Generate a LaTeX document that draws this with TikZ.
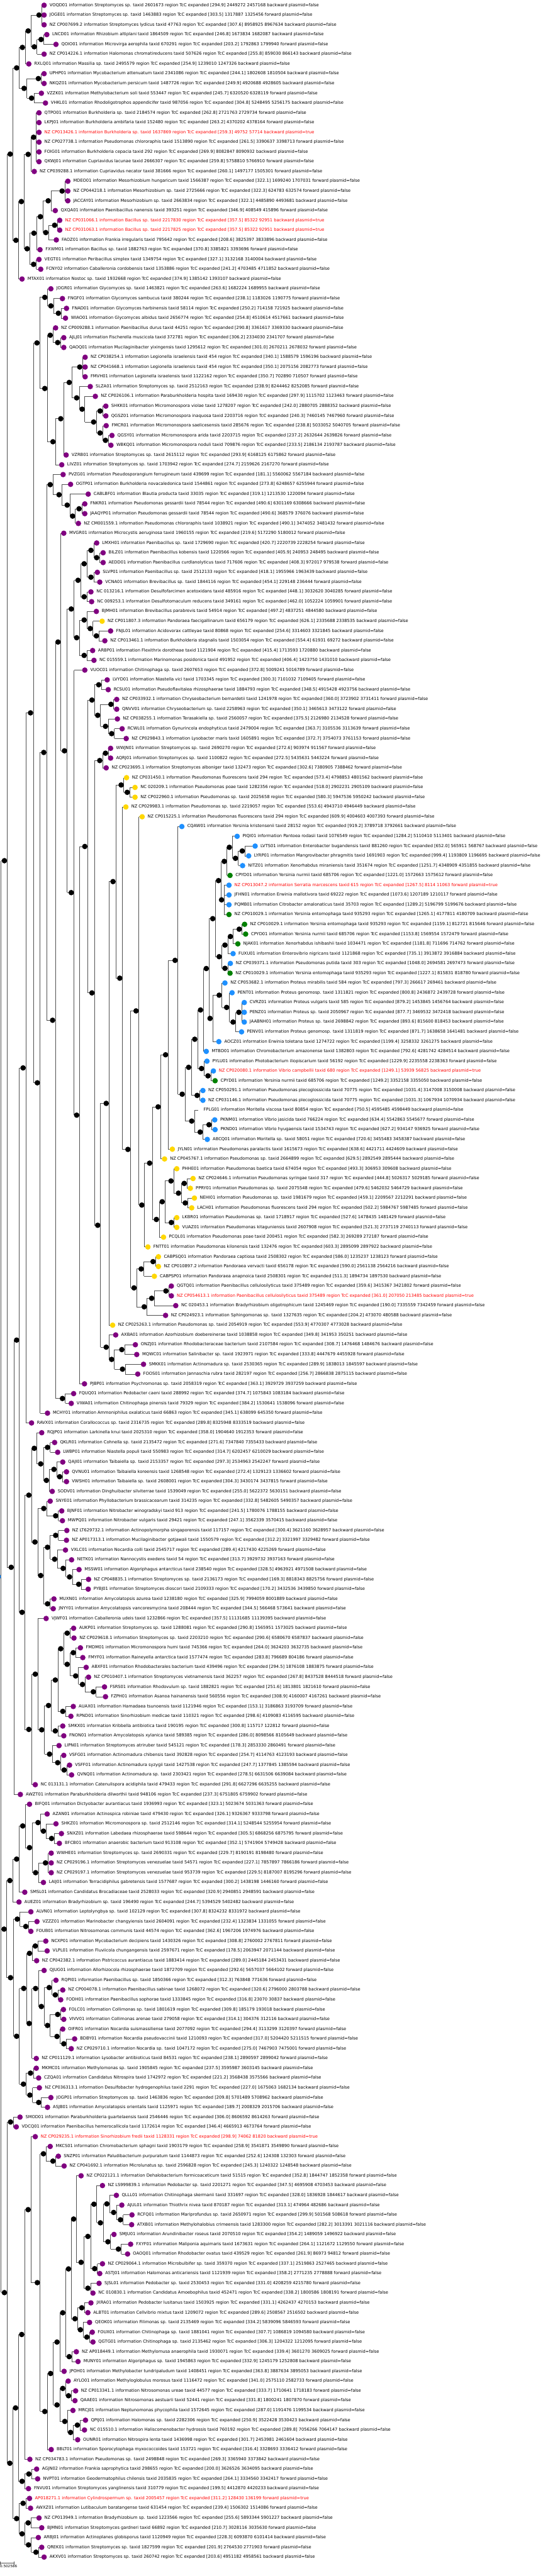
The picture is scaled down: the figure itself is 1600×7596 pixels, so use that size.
\documentclass[tikz,border=0pt]{standalone}
\usepackage{fontspec}
\setmainfont{DejaVu Sans}
\usepackage{tikz}
\usetikzlibrary{calc}
\definecolor{leafpurple}{RGB}{128,0,128}
\definecolor{leafyellow}{RGB}{255,215,0}
\definecolor{leafblue}{RGB}{30,144,255}
\definecolor{leafgreen}{RGB}{0,128,0}
\definecolor{plasred}{RGB}{255,0,0}
\definecolor{branchgray}{RGB}{80,80,80}
\pgfdeclarelayer{back}
\pgfsetlayers{back,main}
\newcommand\leaffont{\fontsize{12.4}{14}\selectfont}
\newcommand\barfont{\fontsize{10.5}{12}\selectfont}
\tikzset{
  branch/.style={draw=branchgray, line width=1.2pt},
  innerdot/.style={fill=black},
  rootdot/.style={fill=leafblue},
  pu/.style={fill=leafpurple},
  ye/.style={fill=leafyellow},
  bl/.style={fill=leafblue},
  gr/.style={fill=leafgreen},
  nd/.style={fill=none},
  leaflabel/.style={anchor=west, inner sep=0pt, font=\leaffont,
    text height=9pt, text depth=2.5pt}
}
% leaf: index, x, dot style, accession, organism, taxid, score, start end, strand
\newcommand\leaf[9]{%
  \pgfmathsetmacro\leafy{15.5+(#1-1)*28.83}%
  \coordinate (l#1) at (#2,\leafy);
  \fill[#3] (l#1) circle[radius=8];
  \node[leaflabel] (t#1) at ([xshift=16pt]l#1)
    {#4 information #5 taxid #6 region TcC expanded [#7] #8 #9 plasmid=false};
}
% plasmid leaf, red label
\newcommand\pleaf[9]{%
  \pgfmathsetmacro\leafy{15.5+(#1-1)*28.83}%
  \coordinate (l#1) at (#2,\leafy);
  \fill[#3] (l#1) circle[radius=8];
  \node[leaflabel, text=plasred] (t#1) at ([xshift=16pt]l#1)
    {#4 information #5 taxid #6 region TcC expanded [#7] #8 #9 plasmid=true};
}
% clade: [dot style] name, x, children
\newcommand\clade[4][innerdot]{%
  \gdef\cfirst{}%
  \foreach \kid in {#4}{\ifx\cfirst\empty\xdef\cfirst{\kid}\fi\xdef\clast{\kid}}%
  \path let \p1=($(\cfirst)!0.5!(\clast)$) in
    coordinate (#2) at (#3pt,\y1) coordinate (#2v) at (#3pt+8pt,\y1);
  \begin{pgfonlayer}{back}
    \draw[branch] (#2v |- \cfirst) -- (#2v |- \clast);
    \foreach \kid in {#4}{\draw[branch] (#2v |- \kid) -- (\kid);}
  \end{pgfonlayer}
  \fill[#1] (#2) circle[radius=8];
}

\begin{document}
\begin{tikzpicture}[x=1pt, y=-1pt]
  \useasboundingbox (0,0) rectangle (1600,7596);

  % Leaves
  \leaf{1}{130}{pu}{VOQD01}{Streptomyces sp.}{2601673}{294.9}{2449272 2457168}{backward}
  \leaf{2}{130}{pu}{JOGE01}{Streptomyces sp.}{1463883}{303.5}{1317887 1325456}{forward}
  \leaf{3}{130}{pu}{NZ CP007699.2}{Streptomyces lydicus}{47763}{307.6}{8958925 8967634}{backward}
  \leaf{4}{138}{pu}{LNCD01}{Rhizobium altiplani}{1864509}{246.8}{1673834 1682087}{backward}
  \leaf{5}{165}{pu}{QOIO01}{Microvirga aerophila}{670291}{203.2}{1792863 1799940}{forward}
  \leaf{6}{130}{pu}{NZ CP014226.1}{Halomonas chromatireducens}{507626}{255.8}{859030 866143}{backward}
  \leaf{7}{85}{pu}{RXLQ01}{Massilia sp.}{2495579}{254.9}{1239010 1247326}{backward}
  \leaf{8}{130}{pu}{UPHP01}{Mycobacterium attenuatum}{2341086}{244.1}{1802608 1810504}{backward}
  \leaf{9}{130}{pu}{NKQZ01}{Mycobacterium persicum}{1487726}{249.9}{4920688 4928605}{backward}
  \leaf{10}{122}{pu}{VZZK01}{Methylobacterium soli}{553447}{245.7}{6320520 6328119}{forward}
  \leaf{11}{134}{pu}{VHKL01}{Rhodoligotrophos appendicifer}{987056}{304.8}{5248495 5256175}{backward}
  \leaf{12}{115}{pu}{QTPO01}{Burkholderia sp.}{2184574}{262.8}{2721763 2729734}{forward}
  \leaf{13}{115}{pu}{LKPJ01}{Burkholderia ambifaria}{152480}{263.2}{4370202 4378164}{forward}
  \pleaf{14}{115}{pu}{NZ CP013426.1}{Burkholderia sp.}{1637869}{259.3}{49752 57714}{backward}
  \leaf{15}{115}{pu}{NZ CP027738.1}{Pseudomonas chlororaphis}{1513890}{261.5}{3390637 3398713}{forward}
  \leaf{16}{115}{pu}{FOIG01}{Burkholderia cepacia}{292}{269.9}{8082847 8090932}{backward}
  \leaf{17}{115}{pu}{QKWJ01}{Cupriavidus lacunae}{2666307}{259.8}{5758810 5766910}{forward}
  \leaf{18}{101}{pu}{NZ CP039288.1}{Cupriavidus necator}{381666}{260.1}{1497177 1505301}{forward}
  \leaf{19}{200}{pu}{MDEO01}{Mesorhizobium hungaricum}{1566387}{322.1}{1699240 1707031}{forward}
  \leaf{20}{200}{pu}{NZ CP044218.1}{Mesorhizobium sp.}{2725666}{322.3}{624783 632574}{forward}
  \leaf{21}{200}{pu}{JACCAY01}{Mesorhizobium sp.}{2663834}{322.1}{4485890 4493681}{backward}
  \leaf{22}{163}{pu}{QXQA01}{Paenibacillus nanensis}{393251}{346.9}{408549 415896}{forward}
  \pleaf{23}{176}{pu}{NZ CP031066.1}{Bacillus sp.}{2217830}{357.5}{85322 92951}{backward}
  \pleaf{24}{176}{pu}{NZ CP031063.1}{Bacillus sp.}{2217825}{357.5}{85322 92951}{backward}
  \leaf{25}{166}{pu}{FAOZ01}{Frankia irregularis}{795642}{208.6}{3825397 3833896}{backward}
  \leaf{26}{118}{pu}{FXWM01}{Bacillus sp.}{1882763}{370.8}{3385821 3393696}{forward}
  \leaf{27}{115}{pu}{VEGT01}{Peribacillus simplex}{1349754}{327.1}{3132168 3140004}{backward}
  \leaf{28}{120}{pu}{FCNY02}{Caballeronia cordobensis}{1353886}{241.2}{4703485 4711852}{backward}
  \leaf{29}{65}{pu}{MTAX01}{Nostoc sp.}{1932668}{374.9}{1385142 1393107}{backward}
  \leaf{30}{150}{pu}{JOGR01}{Glycomyces sp.}{1463821}{263.6}{1682224 1689955}{backward}
  \leaf{31}{184}{pu}{FNGF01}{Glycomyces sambucus}{380244}{238.1}{1183026 1190775}{forward}
  \leaf{32}{196}{pu}{FNAD01}{Glycomyces harbinensis}{58114}{250.2}{714158 721925}{backward}
  \leaf{33}{193}{pu}{WIAO01}{Glycomyces albidus}{2656774}{254.8}{4510614 4517661}{backward}
  \leaf{34}{164}{pu}{NZ CP009288.1}{Paenibacillus durus}{44251}{290.8}{3361617 3369330}{backward}
  \leaf{35}{188}{pu}{AJLJ01}{Fischerella muscicola}{372781}{306.2}{2334030 2341707}{forward}
  \leaf{36}{188}{pu}{QAOQ01}{Mucilaginibacter yixingensis}{1295612}{301.0}{2670211 2678032}{forward}
  \leaf{37}{251}{pu}{NZ CP038254.1}{Legionella israelensis}{454}{340.1}{1588579 1596196}{backward}
  \leaf{38}{251}{pu}{NZ CP041668.1}{Legionella israelensis}{454}{350.1}{2075156 2082773}{forward}
  \leaf{39}{251}{pu}{FMVH01}{Legionella israelensis}{1122162}{350.7}{702890 710507}{forward}
  \leaf{40}{266}{pu}{SLZA01}{Streptomyces sp.}{2512163}{238.9}{8244462 8252085}{forward}
  \leaf{41}{281}{pu}{NZ CP026106.1}{Paraburkholderia hospita}{169430}{297.9}{1115702 1123463}{forward}
  \leaf{42}{312}{pu}{SHKK01}{Micromonospora violae}{1278207}{242.0}{2880705 2888352}{backward}
  \leaf{43}{312}{pu}{QGSZ01}{Micromonospora inaquosa}{2203716}{240.3}{7460145 7467960}{forward}
  \leaf{44}{313}{pu}{FMCR01}{Micromonospora saelicesensis}{285676}{238.8}{5033052 5040705}{forward}
  \leaf{45}{330}{pu}{QGSY01}{Micromonospora arida}{2203715}{237.2}{2632644 2639826}{forward}
  \leaf{46}{327}{pu}{WBKQ01}{Micromonospora noduli}{709876}{233.5}{2186134 2193787}{backward}
  \leaf{47}{195}{pu}{VZRB01}{Streptomyces sp.}{2615112}{293.9}{6168125 6175862}{forward}
  \leaf{48}{182}{pu}{LIVZ01}{Streptomyces sp.}{1703942}{274.7}{2159626 2167270}{forward}
  \leaf{49}{186}{pu}{PVZG01}{Pseudosporangium ferrugineum}{439699}{181.1}{5560062 5567184}{backward}
  \leaf{50}{208}{pu}{OGTP01}{Burkholderia novacaledonica}{1544861}{273.8}{6248657 6255944}{forward}
  \leaf{51}{260}{pu}{CABLBF01}{Blautia producta}{33035}{319.1}{1213530 1220094}{forward}
  \leaf{52}{250}{pu}{FNKR01}{Pseudomonas gessardii}{78544}{490.6}{6301169 6308666}{backward}
  \leaf{53}{250}{pu}{JAAQYP01}{Pseudomonas gessardii}{78544}{490.6}{368579 376076}{backward}
  \leaf{54}{231}{pu}{NZ CM001559.1}{Pseudomonas chlororaphis}{1038921}{490.1}{3474052 3481432}{forward}
  \leaf{55}{188}{pu}{MVGR01}{Microcystis aeruginosa}{1960155}{219.6}{5172290 5180012}{forward}
  \leaf{56}{285}{pu}{LMXH01}{Paenibacillus sp.}{1729690}{420.7}{2220739 2228254}{forward}
  \leaf{57}{304}{pu}{BILZ01}{Paenibacillus kobensis}{1220566}{405.9}{240953 248495}{backward}
  \leaf{58}{304}{pu}{AEDD01}{Paenibacillus curdlanolyticus}{717606}{408.3}{972017 979538}{forward}
  \leaf{59}{287}{pu}{SLVP01}{Paenibacillus sp.}{2512133}{418.1}{1955966 1963439}{backward}
  \leaf{60}{294}{pu}{VCNA01}{Brevibacillus sp.}{1844116}{454.1}{229148 236444}{forward}
  \leaf{61}{268}{pu}{NC 013216.1}{Desulfofarcimen acetoxidans}{485916}{448.1}{3032620 3040285}{forward}
  \leaf{62}{270}{pu}{NC 009253.1}{Desulfotomaculum reducens}{349161}{462.0}{1052224 1059901}{forward}
  \leaf{63}{284}{pu}{BJMH01}{Brevibacillus parabrevis}{54914}{497.2}{4837251 4844580}{backward}
  \leaf{64}{301}{ye}{NZ CP011807.3}{Pandoraea faecigallinarum}{656179}{626.1}{2335688 2338535}{backward}
  \leaf{65}{326}{pu}{FNJL01}{Acidovorax cattleyae}{80868}{254.6}{3314603 3321845}{backward}
  \leaf{66}{309}{pu}{NZ CP013461.1}{Burkholderia stagnalis}{1503054}{554.4}{61931 69272}{backward}
  \leaf{67}{273}{pu}{ARBP01}{Flexithrix dorotheae}{1121904}{415.4}{1713593 1720880}{backward}
  \leaf{68}{277}{pu}{NC 015559.1}{Marinomonas posidonica}{491952}{406.4}{1423750 1431010}{backward}
  \leaf{69}{250}{pu}{VUOC01}{Chitinophaga sp.}{2607653}{372.8}{5009241 5016789}{forward}
  \leaf{70}{316}{pu}{LVYD01}{Niastella vici}{1703345}{300.3}{7101032 7109405}{forward}
  \leaf{71}{319}{pu}{RCSU01}{Pseudoflavitalea rhizosphaerae}{1884793}{348.5}{4915428 4923756}{backward}
  \leaf{72}{344}{pu}{NZ CP033932.1}{Chryseobacterium bernardetii}{1241978}{360.0}{3723902 3731411}{forward}
  \leaf{73}{344}{pu}{QNVV01}{Chryseobacterium sp.}{2258963}{350.1}{3465613 3473122}{forward}
  \leaf{74}{346}{pu}{NZ CP038255.1}{Terasakiella sp.}{2560057}{375.5}{2126980 2134528}{forward}
  \leaf{75}{360}{pu}{RCWL01}{Gynurincola endophyticus}{2479004}{363.7}{3105536 3113639}{forward}
  \leaf{76}{372}{pu}{NZ CP029843.1}{Lysobacter maris}{1605891}{372.7}{3754073 3761153}{forward}
  \leaf{77}{326}{pu}{WWJN01}{Streptomyces sp.}{2690270}{272.6}{903974 911567}{forward}
  \leaf{78}{326}{pu}{AQRJ01}{Streptomyces sp.}{1100822}{272.5}{5435631 5443224}{forward}
  \leaf{79}{313}{pu}{NZ CP023695.1}{Streptomyces alboniger}{132473}{302.6}{7380905 7388462}{forward}
  \leaf{80}{373}{ye}{NZ CP031450.1}{Pseudomonas fluorescens}{294}{573.4}{4798853 4801562}{backward}
  \leaf{81}{398}{ye}{NC 020209.1}{Pseudomonas poae}{1282356}{518.0}{2902231 2905109}{backward}
  \leaf{82}{398}{ye}{NZ CP022960.1}{Pseudomonas sp.}{2025658}{580.3}{5947536 5950242}{backward}
  \leaf{83}{371}{ye}{NZ CP029983.1}{Pseudomonas sp.}{2219057}{553.6}{4943710 4946449}{backward}
  \leaf{84}{419}{ye}{NZ CP015225.1}{Pseudomonas fluorescens}{294}{609.9}{4004603 4007393}{forward}
  \leaf{85}{536}{bl}{CQAW01}{Yersinia kristensenii}{28152}{919.2}{3789718 3792661}{backward}
  \leaf{86}{699}{bl}{PIQI01}{Pantoea rodasii}{1076549}{1284.2}{5110410 5113401}{backward}
  \leaf{87}{752}{bl}{LVTS01}{Enterobacter bugandensis}{881260}{652.0}{565911 568767}{backward}
  \leaf{88}{733}{bl}{LYRP01}{Mangrovibacter phragmitis}{1691903}{999.4}{1193809 1196695}{backward}
  \leaf{89}{715}{bl}{NITZ01}{Xenorhabdus miraniensis}{351674}{1251.7}{4348909 4351855}{backward}
  \leaf{90}{678}{gr}{CPYD01}{Yersinia nurmii}{685706}{1221.0}{1572663 1575612}{forward}
  \pleaf{91}{675}{bl}{NZ CP013047.2}{Serratia marcescens}{615}{1267.5}{8114 11063}{forward}
  \leaf{92}{675}{bl}{JFHN01}{Erwinia mallotivora}{69222}{1073.6}{1207189 1210117}{forward}
  \leaf{93}{675}{bl}{PQMB01}{Citrobacter amalonaticus}{35703}{1289.2}{5196799 5199676}{backward}
  \leaf{94}{675}{gr}{NZ CP010029.1}{Yersinia entomophaga}{935293}{1265.1}{4177811 4180709}{backward}
  \leaf{95}{721}{gr}{NZ CP010029.1}{Yersinia entomophaga}{935293}{1159.1}{812721 815646}{forward}
  \leaf{96}{724}{gr}{CPYD01}{Yersinia nurmii}{685706}{1153.8}{1569554 1572479}{forward}
  \leaf{97}{701}{gr}{NJAK01}{Xenorhabdus ishibashii}{1034471}{1181.8}{711696 714762}{forward}
  \leaf{98}{687}{bl}{FUXU01}{Enterovibrio nigricans}{1121868}{735.1}{3913872 3916884}{backward}
  \leaf{99}{679}{bl}{NZ CP039371.1}{Pseudomonas putida}{303}{1048.0}{2694581 2697473}{forward}
  \leaf{100}{678}{gr}{NZ CP010029.1}{Yersinia entomophaga}{935293}{1227.1}{815831 818780}{forward}
  \leaf{101}{663}{bl}{NZ CP053682.1}{Proteus mirabilis}{584}{797.3}{266617 269461}{backward}
  \leaf{102}{684}{bl}{PENT01}{Proteus genomosp.}{1311821}{800.8}{2436872 2439728}{forward}
  \leaf{103}{720}{bl}{CVRZ01}{Proteus vulgaris}{585}{879.2}{1453845 1456764}{backward}
  \leaf{104}{720}{bl}{PENZ01}{Proteus sp.}{2050967}{877.7}{3469532 3472418}{backward}
  \leaf{105}{720}{bl}{JAABNH01}{Proteus sp.}{2698842}{893.6}{815600 818453}{backward}
  \leaf{106}{712}{bl}{PENV01}{Proteus genomosp.}{1311819}{871.7}{1638658 1641481}{backward}
  \leaf{107}{645}{bl}{AOCZ01}{Erwinia toletana}{1274722}{1199.4}{3258332 3261275}{backward}
  \leaf{108}{608}{bl}{MTBD01}{Chromobacterium amazonense}{1382803}{792.6}{4281742 4284514}{backward}
  \leaf{109}{610}{bl}{PYLU01}{Photobacterium iliopiscarium}{56192}{1229.9}{2235558 2238363}{forward}
  \pleaf{110}{629}{bl}{NZ CP020080.1}{Vibrio campbellii}{680}{1249.1}{53939 56825}{backward}
  \leaf{111}{634}{gr}{CPYD01}{Yersinia nurmii}{685706}{1249.2}{3352158 3355050}{backward}
  \leaf{112}{598}{bl}{NZ CP050291.1}{Pseudomonas plecoglossicida}{70775}{1031.4}{3147008 3150008}{backward}
  \leaf{113}{598}{bl}{NZ CP031146.1}{Pseudomonas plecoglossicida}{70775}{1031.3}{1067934 1070934}{backward}
  \leaf{114}{584}{nd}{FPLG01}{Moritella viscosa}{80854}{750.5}{4595485 4598449}{backward}
  \leaf{115}{633}{bl}{PKNM01}{Vibrio jasicida}{766224}{634.4}{5542863 5545677}{forward}
  \leaf{116}{634}{bl}{PKND01}{Vibrio hyugaensis}{1534743}{627.2}{934147 936925}{forward}
  \leaf{117}{611}{bl}{ABCQ01}{Moritella sp.}{58051}{720.6}{3455483 3458387}{backward}
  \leaf{118}{508}{ye}{JYLN01}{Pseudomonas paralactis}{1615673}{638.6}{4421711 4424609}{backward}
  \leaf{119}{485}{ye}{NZ CP045767.1}{Pseudomonas sp.}{2664899}{629.5}{2892549 2895444}{backward}
  \leaf{120}{521}{ye}{PHHE01}{Pseudomonas baetica}{674054}{493.3}{306953 309608}{backward}
  \leaf{121}{569}{ye}{NZ CP024646.1}{Pseudomonas syringae}{317}{444.8}{5026317 5029185}{forward}
  \leaf{122}{561}{ye}{PPRY01}{Pseudomonas sp.}{2075548}{479.6}{5462032 5464729}{backward}
  \leaf{123}{573}{ye}{NEHI01}{Pseudomonas sp.}{1981679}{459.1}{2209567 2212291}{backward}
  \leaf{124}{565}{ye}{LACH01}{Pseudomonas fluorescens}{294}{502.2}{5984767 5987485}{forward}
  \leaf{125}{521}{ye}{LKBR01}{Pseudomonas sp.}{1718917}{527.6}{1478435 1481429}{forward}
  \leaf{126}{521}{ye}{VUAZ01}{Pseudomonas kitaguniensis}{2607908}{521.3}{2737119 2740113}{forward}
  \leaf{127}{482}{ye}{PCQL01}{Pseudomonas poae}{200451}{582.3}{269289 272187}{forward}
  \leaf{128}{436}{ye}{FNTT01}{Pseudomonas kilonensis}{132476}{603.3}{2895099 2897922}{backward}
  \leaf{129}{467}{ye}{CABPSQ01}{Pandoraea captiosa}{2508302}{586.0}{1235237 1238123}{forward}
  \leaf{130}{467}{ye}{NZ CP010897.2}{Pandoraea vervacti}{656178}{590.0}{2561138 2564216}{backward}
  \leaf{131}{455}{ye}{CABPSP01}{Pandoraea anapnoica}{2508301}{511.3}{1894734 1897530}{backward}
  \leaf{132}{505}{pu}{QGTQ01}{Paenibacillus cellulosilyticus}{375489}{359.6}{3415367 3421802}{forward}
  \pleaf{133}{505}{pu}{NZ CP054613.1}{Paenibacillus cellulosilyticus}{375489}{361.0}{207050 213485}{backward}
  \leaf{134}{518}{pu}{NC 020453.1}{Bradyrhizobium oligotrophicum}{1245469}{190.0}{7335559 7342459}{forward}
  \leaf{135}{488}{pu}{NZ CP024923.1}{Sphingomonas sp.}{1327635}{204.2}{473070 480588}{backward}
  \leaf{136}{332}{ye}{NZ CP025263.1}{Pseudomonas sp.}{2054919}{553.9}{4770307 4773028}{backward}
  \leaf{137}{341}{pu}{AXBA01}{Azorhizobium doebereinerae}{1038858}{349.8}{341953 350251}{backward}
  \leaf{138}{399}{pu}{ONZJ01}{Rhodobacteraceae bacterium}{2107584}{308.7}{1476468 1484676}{backward}
  \leaf{139}{403}{pu}{MQWC01}{Salinibacter sp.}{1923971}{333.8}{4447679 4455928}{forward}
  \leaf{140}{423}{pu}{SMKK01}{Actinomadura sp.}{2530365}{289.9}{1838013 1845597}{backward}
  \leaf{141}{406}{pu}{FOOS01}{Jannaschia rubra}{282197}{256.7}{2866838 2875115}{backward}
  \leaf{142}{249}{pu}{PJBP01}{Psychromonas sp.}{2058319}{363.1}{3929729 3937259}{backward}
  \leaf{143}{217}{pu}{FQUQ01}{Pedobacter caeni}{288992}{374.7}{1075843 1083184}{backward}
  \leaf{144}{210}{pu}{VIWA01}{Chitinophaga pinensis}{79329}{384.2}{1530641 1538096}{forward}
  \leaf{145}{140}{pu}{MCHY01}{Ammoniphilus oxalaticus}{66863}{345.1}{638099 645350}{forward}
  \leaf{146}{93}{pu}{RAVX01}{Corallococcus sp.}{2316735}{289.8}{8325948 8333519}{backward}
  \leaf{147}{123}{pu}{RQJP01}{Larkinella knui}{2025310}{358.0}{1904640 1912353}{forward}
  \leaf{148}{161}{pu}{QKLR01}{Cohnella sp.}{2135472}{271.6}{7347840 7355433}{backward}
  \leaf{149}{170}{pu}{LWBP01}{Niastella populi}{550983}{314.7}{6202457 6210029}{backward}
  \leaf{150}{185}{pu}{QAJI01}{Taibaiella sp.}{2153357}{297.3}{2534963 2542247}{forward}
  \leaf{151}{196}{pu}{QVNU01}{Taibaiella koreensis}{1268548}{272.4}{1329123 1336602}{forward}
  \leaf{152}{196}{pu}{VWSH01}{Taibaiella sp.}{2608001}{304.3}{3430174 3437815}{forward}
  \leaf{153}{154}{pu}{SODV01}{Dinghuibacter silviterrae}{1539049}{255.0}{5622372 5630151}{backward}
  \leaf{154}{148}{pu}{SNYE01}{Phyllobacterium brassicacearum}{314235}{332.8}{5482605 5490357}{backward}
  \leaf{155}{182}{pu}{BJNF01}{Nitrobacter winogradskyi}{913}{241.5}{1780076 1788155}{backward}
  \leaf{156}{184}{pu}{MWPQ01}{Nitrobacter vulgaris}{29421}{247.1}{3562339 3570415}{backward}
  \leaf{157}{197}{pu}{NZ LT629732.1}{Actinopolymorpha singaporensis}{117157}{300.4}{3621160 3628957}{backward}
  \leaf{158}{196}{pu}{NZ AP017313.1}{Mucilaginibacter gotjawali}{1550579}{312.2}{3321997 3329482}{forward}
  \leaf{159}{193}{pu}{VXLC01}{Nocardia colli}{2545717}{289.4}{4217430 4225269}{forward}
  \leaf{160}{211}{pu}{NETK01}{Nannocystis exedens}{54}{313.7}{3929732 3937163}{forward}
  \leaf{161}{233}{pu}{MSSW01}{Algoriphagus antarcticus}{238540}{328.5}{4963921 4971508}{backward}
  \leaf{162}{261}{pu}{NZ CP048835.1}{Streptomyces sp.}{2136173}{169.3}{8818343 8825756}{forward}
  \leaf{163}{260}{pu}{PYBJ01}{Streptomyces dioscori}{2109333}{170.2}{3432536 3439850}{forward}
  \leaf{164}{159}{pu}{MUXN01}{Amycolatopsis azurea}{1238180}{325.9}{7994059 8001889}{backward}
  \leaf{165}{157}{pu}{JNYY01}{Amycolatopsis vancoresmycina}{208444}{344.5}{566468 573641}{backward}
  \leaf{166}{136}{pu}{VJWF01}{Caballeronia udeis}{1232866}{357.5}{11131685 11139395}{backward}
  \leaf{167}{217}{pu}{AUKP01}{Streptomyces sp.}{1288081}{290.8}{1565951 1573025}{backward}
  \leaf{168}{218}{pu}{NZ CP029618.1}{Streptomyces sp.}{2203210}{290.6}{6580670 6587837}{backward}
  \leaf{169}{237}{pu}{FMDM01}{Micromonospora humi}{745366}{264.0}{3624203 3632735}{backward}
  \leaf{170}{244}{pu}{FMYF01}{Raineyella antarctica}{1577474}{283.8}{796689 804186}{forward}
  \leaf{171}{254}{pu}{ABXF01}{Rhodobacterales bacterium}{439496}{294.5}{1876108 1883875}{forward}
  \leaf{172}{261}{pu}{NZ CP010407.1}{Streptomyces vietnamensis}{362257}{267.8}{8437528 8444518}{forward}
  \leaf{173}{308}{pu}{FSRS01}{Rhodovulum sp.}{1882821}{251.6}{1813801 1821610}{forward}
  \leaf{174}{311}{pu}{FZPH01}{Asanoa hainanensis}{560556}{308.9}{4160007 4167261}{backward}
  \leaf{175}{216}{pu}{AUAX01}{Hamadaea tsunoensis}{1121946}{153.1}{3186863 3193709}{forward}
  \leaf{176}{209}{pu}{RPND01}{Sinorhizobium medicae}{110321}{298.6}{4109083 4116595}{backward}
  \leaf{177}{185}{pu}{SMKX01}{Kribbella antibiotica}{190195}{300.8}{115717 122812}{forward}
  \leaf{178}{188}{pu}{FNON01}{Amycolatopsis xylanica}{589385}{286.0}{8098566 8105649}{backward}
  \leaf{179}{174}{pu}{LIPN01}{Streptomyces atriruber}{545121}{178.3}{2853330 2860491}{forward}
  \leaf{180}{188}{pu}{VSFG01}{Actinomadura chibensis}{392828}{254.7}{4114763 4123193}{backward}
  \leaf{181}{205}{pu}{VSFF01}{Actinomadura syzygii}{1427538}{247.7}{1377845 1385594}{backward}
  \leaf{182}{211}{pu}{QVNQ01}{Actinomadura sp.}{2303421}{278.5}{6631506 6639084}{backward}
  \leaf{183}{104}{pu}{NC 013131.1}{Catenulispora acidiphila}{479433}{291.8}{6627296 6635255}{backward}
  \leaf{184}{60}{pu}{AWZT01}{Paraburkholderia dilworthii}{948106}{237.3}{6751805 6759902}{forward}
  \leaf{185}{87}{pu}{BIFQ01}{Dictyobacter aurantiacus}{1936993}{323.1}{5023674 5031363}{forward}
  \leaf{186}{139}{pu}{AZAN01}{Actinospica robiniae}{479430}{326.1}{9326367 9333798}{forward}
  \leaf{187}{165}{pu}{SHKZ01}{Micromonospora sp.}{2512146}{314.1}{5248544 5255954}{forward}
  \leaf{188}{181}{pu}{SNXZ01}{Labedaea rhizosphaerae}{598644}{305.5}{6868256 6875795}{forward}
  \leaf{189}{175}{pu}{BFCB01}{anaerobic bacterium}{913108}{352.1}{5741904 5749428}{backward}
  \leaf{190}{151}{pu}{WWHE01}{Streptomyces sp.}{2690331}{229.7}{8190191 8198480}{forward}
  \leaf{191}{151}{pu}{NZ CP029196.1}{Streptomyces venezuelae}{54571}{227.1}{7857897 7866186}{forward}
  \leaf{192}{151}{pu}{NZ CP029197.1}{Streptomyces venezuelae}{953739}{229.5}{8187007 8195296}{forward}
  \leaf{193}{128}{pu}{LAIJ01}{Terracidiphilus gabretensis}{1577687}{300.2}{1438198 1446160}{forward}
  \leaf{194}{73}{pu}{SMSL01}{Candidatus Brocadiaceae}{2528033}{320.9}{2940851 2948591}{backward}
  \leaf{195}{56}{pu}{AUEZ01}{Bradyrhizobium sp.}{196490}{244.7}{5394529 5402482}{backward}
  \leaf{196}{91}{pu}{ALVN01}{Leptolyngbya sp.}{102129}{307.8}{8324232 8331972}{backward}
  \leaf{197}{109}{pu}{VZZZ01}{Marinobacter changyiensis}{2604091}{232.4}{1323834 1331055}{forward}
  \leaf{198}{91}{pu}{FOUB01}{Nitrosomonas communis}{44574}{362.6}{1967206 1974976}{backward}
  \leaf{199}{135}{pu}{NCXP01}{Mycobacterium decipiens}{1430326}{308.8}{2760002 2767811}{forward}
  \leaf{200}{139}{pu}{VLPL01}{Fluviicola chungangensis}{2597671}{178.5}{2063947 2071144}{backward}
  \leaf{201}{108}{pu}{NZ CP042382.1}{Pistricoccus aurantiacus}{1883414}{289.0}{2445184 2453431}{backward}
  \leaf{202}{130}{pu}{QJUG01}{Allorhizocola rhizosphaerae}{1872709}{292.6}{5657037 5664102}{forward}
  \leaf{203}{165}{pu}{RQPI01}{Paenibacillus sp.}{1850366}{312.3}{763848 771636}{forward}
  \leaf{204}{185}{pu}{NZ CP004078.1}{Paenibacillus sabinae}{1268072}{320.6}{2796000 2803788}{backward}
  \leaf{205}{179}{pu}{FODH01}{Paenibacillus sophorae}{1333845}{316.8}{23070 30837}{backward}
  \leaf{206}{187}{pu}{FOLC01}{Collimonas sp.}{1801619}{309.8}{185179 193018}{backward}
  \leaf{207}{188}{pu}{VIVV01}{Collimonas arenae}{279058}{314.1}{304376 312116}{backward}
  \leaf{208}{185}{pu}{OIFR01}{Nocardia suismassiliense}{2077092}{294.4}{3113299 3120397}{forward}
  \leaf{209}{220}{pu}{BDBY01}{Nocardia pseudovaccinii}{1210093}{317.0}{5204420 5211515}{forward}
  \leaf{210}{210}{pu}{NZ CP029710.1}{Nocardia sp.}{1047172}{275.0}{7467903 7475001}{forward}
  \leaf{211}{107}{pu}{NZ CP011129.1}{Lysobacter antibioticus}{84531}{238.1}{2890597 2899042}{forward}
  \leaf{212}{107}{pu}{MKMC01}{Methylomonas sp.}{1905845}{237.5}{3595987 3603145}{backward}
  \leaf{213}{114}{pu}{CZQA01}{Candidatus Nitrospira}{1742972}{221.2}{3568438 3575566}{backward}
  \leaf{214}{116}{pu}{NZ CP036313.1}{Desulfobacter hydrogenophilus}{2291}{227.0}{1675063 1682134}{backward}
  \leaf{215}{150}{pu}{JOGP01}{Streptomyces sp.}{1463836}{209.8}{5701489 5708962}{backward}
  \leaf{216}{140}{pu}{ASJB01}{Amycolatopsis orientalis}{1125971}{189.7}{2008329 2015706}{backward}
  \leaf{217}{59}{pu}{SMOD01}{Paraburkholderia guartelaensis}{2546446}{306.0}{8606592 8614263}{forward}
  \leaf{218}{48}{pu}{VDCQ01}{Paenibacillus hemerocallicola}{1172614}{346.4}{4665913 4673764}{forward}
  \pleaf{219}{104}{pu}{NZ CP029235.1}{Sinorhizobium fredii}{1128331}{298.9}{74062 81820}{backward}
  \leaf{220}{148}{pu}{MKCS01}{Chromobacterium sphagni}{1903179}{258.9}{3541871 3549890}{forward}
  \leaf{221}{172}{pu}{SNZP01}{Paludibacterium purpuratum}{1144873}{252.6}{124308 132303}{forward}
  \leaf{222}{189}{pu}{NZ CP041692.1}{Microlunatus sp.}{2596828}{245.3}{1240322 1248548}{backward}
  \leaf{223}{239}{pu}{NZ CP022121.1}{Dehalobacterium formicoaceticum}{51515}{352.8}{1844747 1852358}{forward}
  \leaf{224}{302}{pu}{NZ LS999839.1}{Pedobacter sp.}{2201271}{347.5}{4695908 4703453}{backward}
  \leaf{225}{343}{pu}{QLLL01}{Chitinophaga skermanii}{331697}{328.0}{1836928 1844617}{backward}
  \leaf{226}{359}{pu}{AJUL01}{Thiothrix nivea}{870187}{313.1}{474964 482686}{backward}
  \leaf{227}{389}{pu}{RCFQ01}{Mariprofundus sp.}{2650971}{299.9}{501568 508618}{forward}
  \leaf{228}{388}{pu}{ATXB01}{Methylohalobius crimeensis}{1283300}{282.2}{3013391 3021116}{backward}
  \leaf{229}{336}{pu}{SMJU01}{Arundinibacter roseus}{2070510}{354.2}{1489059 1496922}{backward}
  \leaf{230}{385}{pu}{FXYF01}{Maliponia aquimaris}{1673631}{264.1}{1121672 1129550}{forward}
  \leaf{231}{376}{pu}{OAOQ01}{Rhodobacter ovatus}{439529}{261.9}{86973 94812}{forward}
  \leaf{232}{302}{pu}{NZ CP029064.1}{Microbulbifer sp.}{359370}{337.1}{2519863 2527465}{backward}
  \leaf{233}{294}{pu}{ASTJ01}{Halomonas anticariensis}{1121939}{358.2}{2771235 2778888}{forward}
  \leaf{234}{292}{pu}{SJSL01}{Pedobacter sp.}{2530453}{331.0}{4208259 4215780}{forward}
  \leaf{235}{274}{pu}{NC 010830.1}{Candidatus Amoebophilus}{452471}{338.2}{1800586 1808191}{forward}
  \leaf{236}{268}{pu}{JXRA01}{Pedobacter lusitanus}{1503925}{331.1}{4262437 4270153}{backward}
  \leaf{237}{259}{pu}{ALBT01}{Cellvibrio mixtus}{1209072}{289.6}{2508567 2516502}{backward}
  \leaf{238}{264}{pu}{QEOK01}{Filimonas sp.}{2135469}{334.2}{5839096 5846593}{forward}
  \leaf{239}{272}{pu}{FOUX01}{Chitinophaga sp.}{1881041}{307.7}{1086819 1094580}{backward}
  \leaf{240}{274}{pu}{QGTG01}{Chitinophaga sp.}{2135462}{306.3}{1204322 1212095}{forward}
  \leaf{241}{225}{pu}{NZ AP018449.1}{Methylomusa anaerophila}{1930071}{339.4}{3601270 3609025}{forward}
  \leaf{242}{230}{pu}{MUNY01}{Algoriphagus sp.}{1945863}{332.9}{1245179 1252808}{backward}
  \leaf{243}{189}{pu}{JPOH01}{Methylobacter tundripaludum}{1408451}{363.8}{3887634 3895053}{backward}
  \leaf{244}{201}{pu}{AYLO01}{Methyloglobulus morosus}{1116472}{341.0}{2575110 2582733}{forward}
  \leaf{245}{223}{pu}{NZ CP013341.1}{Nitrosomonas ureae}{44577}{333.7}{1710641 1718183}{forward}
  \leaf{246}{221}{pu}{QAAE01}{Nitrosomonas aestuarii}{52441}{331.8}{1800241 1807870}{forward}
  \leaf{247}{215}{pu}{MRCJ01}{Neptunomonas phycophila}{1572645}{287.0}{1191476 1199534}{backward}
  \leaf{248}{252}{pu}{QPIJ01}{Halomonas sp.}{2282306}{250.9}{3522428 3530423}{backward}
  \leaf{249}{249}{pu}{NC 015510.1}{Haliscomenobacter hydrossis}{760192}{289.8}{7056266 7064147}{backward}
  \leaf{250}{229}{pu}{OUNR01}{Nitrospira lenta}{1436998}{301.7}{2453981 2461604}{backward}
  \leaf{251}{151}{pu}{BBLT01}{Sporocytophaga myxococcoides}{153721}{316.4}{3328693 3336412}{forward}
  \leaf{252}{88}{pu}{NZ CP034783.1}{Pseudomonas sp.}{2498848}{269.3}{3365940 3373842}{backward}
  \leaf{253}{108}{pu}{AGJN02}{Frankia saprophytica}{298655}{200.0}{3626526 3634095}{backward}
  \leaf{254}{111}{pu}{NVPT01}{Geodermatophilus chilensis}{2035835}{264.1}{3334560 3342417}{forward}
  \leaf{255}{84}{pu}{FNVU01}{Streptomyces yanglinensis}{310779}{199.5}{4412870 4420233}{backward}
  \pleaf{256}{87}{pu}{AP018271.1}{Cylindrospermum sp.}{2005457}{311.2}{128430 136199}{forward}
  \leaf{257}{90}{pu}{AWXZ01}{Lutibaculum baratangense}{631454}{239.4}{1506302 1514086}{forward}
  \leaf{258}{115}{pu}{NZ CP013949.1}{Bradyrhizobium sp.}{1223566}{255.6}{5893344 5901227}{backward}
  \leaf{259}{123}{pu}{BJMN01}{Streptomyces gardneri}{66892}{210.7}{3028116 3035630}{forward}
  \leaf{260}{113}{pu}{ARBJ01}{Actinoplanes globisporus}{1120949}{228.3}{6093870 6101414}{backward}
  \leaf{261}{123}{pu}{QREK01}{Streptomyces sp.}{1827599}{201.9}{2764530 2771903}{forward}
  \leaf{262}{130}{pu}{AKXV01}{Streptomyces sp.}{260742}{203.6}{4951182 4958561}{backward}

  % Upper clades
  \clade{A}{115}{l1,l2,l3}
  \clade{B}{121}{l4,l5}
  \clade{C}{101}{B,l6}
  \clade{D}{83}{A,C}
  \clade{E}{66}{D,l7}
  \clade{F}{113}{l8,l9}
  \clade{G}{93}{l10,l11}
  \clade{H}{71}{F,G}
  \clade{I}{49}{E,H}
  \clade{J}{99}{l12,l13,l14,l15,l16,l17}
  \clade{K}{83}{J,l18}
  \clade{L}{183}{l19,l20,l21}
  \clade{M}{142}{L,l22}
  \clade{Q}{161}{l23,l24}
  \clade{R}{135}{Q,l25}
  \clade{N}{119}{M,R}
  \clade{S}{100}{N,l26}
  \clade{T}{99}{l27,l28}
  \clade{U}{80}{S,T}
  \clade{O}{63}{K,U}
  \clade{V}{47}{O,l29}
  \clade{P}{30}{I,V}

  % Glycomyces to Micromonospora
  \clade{Y}{172}{l32,l33}
  \clade{X}{150}{l31,Y}
  \clade{W}{132}{l30,X}
  \clade{Z1}{170}{l35,l36}
  \clade{Z2}{148}{l34,Z1}
  \clade{L1}{235}{l37,l38,l39}
  \clade{L8}{311}{l45,l46}
  \clade{L7}{295}{l44,L8}
  \clade{L6}{295}{l42,l43}
  \clade{L5}{276}{L6,L7}
  \clade{L4}{242}{l41,L5}
  \clade{L3}{226}{l40,L4}
  \clade{L2}{204}{L1,L3}
  \clade{L9}{179}{L2,l47}
  \clade{L10}{156}{L9,l48}
  \clade{Z4}{132}{Z2,L10}
  \clade{Z3}{109}{W,Z4}
  \clade{M5}{233}{l52,l53}
  \clade{M4}{214}{M5,l54}
  \clade{M3}{198}{l51,M4}
  \clade{M2}{174}{l50,M3}
  \clade{M1}{148}{l49,M2}

  % Paenibacillus group
  \clade{N4}{285}{l57,l58}
  \clade{N3}{268}{l56,N4}
  \clade{N5}{268}{l59,l60}
  \clade{N6}{248}{N3,N5}
  \clade{N7}{248}{l61,l62}
  \clade{N8}{230}{N6,N7}
  \clade{N9}{284}{l65,l66}
  \clade{N10}{266}{l64,N9}
  \clade{N11}{248}{l63,N10}
  \clade{N12}{248}{l67,l68}
  \clade{N13}{226}{N11,N12}
  \clade{N14}{210}{N8,N13}
  \clade{O1}{291}{l70,l71}
  \clade{O2}{327}{l72,l73}
  \clade{O3}{329}{l75,l76}
  \clade{O4}{311}{l74,O3}
  \clade{O5}{288}{O2,O4}
  \clade{O6}{271}{O1,O5}
  \clade{O7}{311}{l77,l78}
  \clade{O8}{294}{O7,l79}
  \clade{P2}{375}{l81,l82}
  \clade{P1}{357}{l80,P2}

  % Enterobacterales and Vibrio
  \clade{B1}{714}{l87,l88}
  \clade{B2}{694}{B1,l89}
  \clade{B3}{676}{l86,B2}
  \clade{B4}{661}{B3,l90}
  \clade{B5}{653}{l91,l92,l93,l94}
  \clade{B6}{644}{B4,B5}
  \clade{B11}{705}{l95,l96}
  \clade{B12}{679}{B11,l97}
  \clade{B13}{663}{B12,l98}
  \clade{B14}{663}{l99,l100}
  \clade{B8}{646}{B13,B14}
  \clade{B7}{627}{B6,B8}
  \clade{B15}{704}{l103,l104,l105}
  \clade{B16}{687}{B15,l106}
  \clade{B17}{668}{l102,B16}
  \clade{B18}{646}{l101,B17}
  \clade{B19}{619}{B18,l107}
  \clade{B20}{608}{B7,B19}
  \clade{B21}{591}{B20,l108}
  \clade{B22}{613}{l110,l111}
  \clade{B23}{594}{l109,B22}
  \clade{B24}{574}{B21,B23}
  \clade{B25}{581}{l112,l113}
  \clade{B26}{556}{B24,B25}
  \clade{B27}{616}{l115,l116}
  \clade{B28}{590}{B27,l117}
  \clade{B29}{565}{l114,B28}
  \clade{B30}{537}{B26,B29}
  \clade{B31}{516}{l85,B30}
  \clade{B32}{488}{B31,l118}
  \clade{B33}{466}{B32,l119}

  % Pseudomonas and Pandoraea
  \clade{Y1}{543}{l121,l122}
  \clade{Y2}{546}{l123,l124}
  \clade{Y3}{526}{Y1,Y2}
  \clade{Y4}{504}{l120,Y3}
  \clade{Y5}{505}{l125,l126}
  \clade{Y6}{478}{Y4,Y5}
  \clade{Y7}{461}{Y6,l127}
  \clade{B34}{441}{B33,Y7}
  \clade{Y8}{418}{B34,l128}
  \clade{Y9}{401}{l84,Y8}
  \clade{Y11}{451}{l129,l130}
  \clade{Y12}{416}{Y11,l131}
  \clade{Y13}{489}{l132,l133}
  \clade{Y14}{447}{Y13,l134}
  \clade{Y15}{425}{Y14,l135}
  \clade{Y16}{395}{Y12,Y15}
  \clade{Y10}{377}{Y9,Y16}
  \clade{Y17}{353}{l83,Y10}
  \clade{Y18}{333}{P1,Y17}
  \clade{Y21}{313}{Y18,l136}
  \clade{Za}{359}{l138,l139}
  \clade{Zb}{361}{l140,l141}
  \clade{Zc}{329}{Za,Zb}
  \clade{Zd}{313}{l137,Zc}
  \clade{Y20}{288}{Y21,Zd}
  \clade{Y19}{271}{O8,Y20}
  \clade{O9}{250}{O6,Y19}
  \clade{Q1}{226}{O9,l142}
  \clade{N15}{210}{l69,Q1}
  \clade{N2}{190}{N14,N15}
  \clade{N1}{171}{l55,N2}
  \clade{Q2}{184}{l143,l144}
  \clade{Q3}{155}{N1,Q2}
  \clade{Q5}{129}{M1,Q3}
  \clade{Q4}{110}{Q5,l145}
  \clade{Q7}{90}{Z3,Q4}
  \clade{Q6}{68}{Q7,l146}

  % Taibaiella to Catenulispora
  \clade{Q9}{140}{l148,l149}
  \clade{Q10}{176}{l151,l152}
  \clade{Q11}{159}{l150,Q10}
  \clade{Q12}{137}{Q11,l153}
  \clade{Q13}{120}{Q9,Q12}
  \clade{Q14}{101}{l147,Q13}
  \clade{Q15}{164}{l155,l156}
  \clade{Q16}{129}{l154,Q15}
  \clade{Q20}{164}{l157,l158}
  \clade{Q21}{232}{l162,l163}
  \clade{Q22}{205}{l161,Q21}
  \clade{Q23}{186}{l160,Q22}
  \clade{Q24}{161}{l159,Q23}
  \clade{Q25}{140}{Q20,Q24}
  \clade{Q26}{140}{l164,l165}
  \clade{Q19}{120}{Q25,Q26}
  \clade{Q18}{103}{Q16,Q19}
  \clade{Q17}{85}{Q14,Q18}
  \clade{R1}{198}{l167,l168}
  \clade{R2}{216}{l169,l170}
  \clade{R3}{275}{l173,l174}
  \clade{R4}{243}{l172,R3}
  \clade{R5}{223}{l171,R4}
  \clade{R6}{198}{R2,R5}
  \clade{R7}{179}{R1,R6}
  \clade{R8}{185}{l175,l176}
  \clade{R9}{163}{R7,R8}
  \clade{R10}{163}{l177,l178}
  \clade{R11}{143}{R9,R10}
  \clade{R12}{189}{l181,l182}
  \clade{R13}{170}{l180,R12}
  \clade{R14}{146}{l179,R13}
  \clade{R15}{123}{R11,R14}
  \clade{R16}{104}{l166,R15}
  \clade{Q28}{85}{R16,l183}
  \clade{Q27}{65}{Q17,Q28}
  \clade{Q30}{49}{Q6,Q27}
  \clade{Q29}{33}{Q30,l184}
  \clade{R0}{13}{P,Q29}

  % Middle group
  \clade{S1}{152}{l188,l189}
  \clade{S2}{128}{l187,S1}
  \clade{S3}{112}{l186,S2}
  \clade{S4}{134}{l190,l191,l192}
  \clade{S5}{105}{S4,l193}
  \clade{S6}{87}{S3,S5}
  \clade{S7}{67}{l185,S6}
  \clade{S8}{49}{S7,l194}
  \clade{S9}{29}{S8,l195}
  \clade{S10}{76}{l197,l198}
  \clade{S11}{51}{l196,S10}
  \clade{S12}{104}{l199,l200}
  \clade{S13}{87}{S12,l201}
  \clade{S16}{163}{l204,l205}
  \clade{S17}{145}{l203,S16}
  \clade{S18}{170}{l206,l207}
  \clade{S19}{188}{l209,l210}
  \clade{S20}{168}{l208,S19}
  \clade{S21}{140}{S18,S20}
  \clade{S22}{122}{S17,S21}
  \clade{S23}{105}{l202,S22}
  \clade{S24}{86}{S23,l211}
  \clade{S25}{70}{S13,S24}
  \clade{S26}{90}{l212,l213}
  \clade{S27}{114}{l215,l216}
  \clade{S28}{88}{l214,S27}
  \clade{S29}{69}{S26,S28}
  \clade{S30}{49}{S25,S29}
  \clade{S15}{31}{S11,S30}
  \clade{S14}{12}{S9,S15}

  % Lower group
  \clade{S31}{31}{l217,l218}
  \clade{S33}{156}{l221,l222}
  \clade{S34}{128}{l220,S33}
  \clade{T1}{355}{l227,l228}
  \clade{T2}{335}{l226,T1}
  \clade{T3}{315}{l225,T2}
  \clade{T4}{349}{l230,l231}
  \clade{T5}{318}{l229,T4}
  \clade{T6}{296}{T3,T5}
  \clade{T7}{277}{l224,T6}
  \clade{T9}{279}{l232,l233}
  \clade{V1}{259}{T7,T9}
  \clade{T10}{259}{l234,l235}
  \clade{V2}{239}{V1,T10}
  \clade{T8}{217}{l223,V2}
  \clade{U1}{241}{l236,l237}
  \clade{U2}{256}{l239,l240}
  \clade{U3}{237}{l238,U2}
  \clade{U4}{221}{U1,U3}
  \clade{U7}{202}{T8,U4}
  \clade{U5}{204}{l241,l242}
  \clade{U6}{185}{U7,U5}
  \clade{U8}{168}{U6,l243}
  \clade{U9}{202}{l245,l246}
  \clade{U10}{185}{l244,U9}
  \clade{U11}{228}{l248,l249}
  \clade{U12}{208}{U11,l250}
  \clade{U13}{191}{l247,U12}
  \clade{U14}{168}{U10,U13}
  \clade{U15}{149}{U8,U14}
  \clade{U16}{132}{U15,l251}
  \clade{U17}{110}{S34,U16}
  \clade{S32}{83}{l219,U17}
  \clade{U18}{64}{S32,l252}
  \clade{V3}{85}{l253,l254}
  \clade{V4}{65}{V3,l255}
  \clade{U19}{46}{U18,V4}
  \clade{V5}{68}{l256,l257}
  \clade{V6}{83}{l258,l259}
  \clade{V7}{106}{l261,l262}
  \clade{V8}{84}{l260,V7}
  \clade{V9}{65}{V6,V8}
  \clade{V10}{49}{V5,V9}
  \clade{V11}{29}{U19,V10}
  \clade{Rb}{13}{S31,V11}

  % Root
  \clade[rootdot]{root}{-5}{R0,S14,Rb}

  % Scale bar
  \coordinate (sb0) at (1,7558);
  \coordinate (sb1) at (41,7558);
  \draw[branch] (sb0) -- (sb1);
  \draw[branch] ([yshift=4pt]sb0) -- ([yshift=-4pt]sb0);
  \draw[branch] ([yshift=4pt]sb1) -- ([yshift=-4pt]sb1);
  \node[anchor=north west, inner sep=0pt, font=\barfont] (sblabel) at (0,7563) {0.502586};
\end{tikzpicture}
\end{document}
